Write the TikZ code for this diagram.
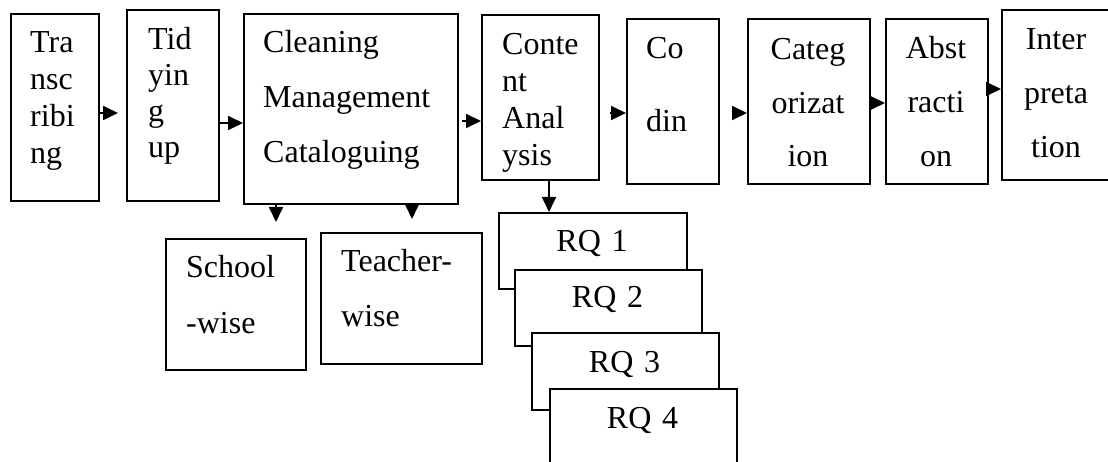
\documentclass[tikz,border=0pt]{standalone}
\usepackage{fontspec}
\setmainfont{Liberation Serif}
\usetikzlibrary{arrows.meta}
\begin{document}
\begin{tikzpicture}[x=1pt,y=-1pt,
  box/.style={draw, line width=1.8pt, fill=white, inner sep=0pt, anchor=north west},
  ltxt/.style={inner sep=0pt, anchor=base west, align=left, text width=#1},
  ctxt/.style={inner sep=0pt, anchor=base, align=center, text width=#1},
  ls/.style={font=\fontsize{32}{#1}\selectfont},
  arr/.style={line width=1.8pt, -{Triangle[length=15pt,width=14pt]}}
]
\useasboundingbox[fill=white] (0,0) rectangle (1108,462);
% top row boxes
\node[box, minimum width=88pt,  minimum height=187pt] (trans)   at (10,13) {};
\node[box, minimum width=92pt,  minimum height=191pt] (tidy)    at (126,9) {};
\node[box, minimum width=214pt, minimum height=190pt] (clean)   at (243,13) {};
\node[box, minimum width=117pt, minimum height=165pt] (content) at (481,14) {};
\node[box, minimum width=92pt,  minimum height=165pt] (coding)  at (626,18) {};
\node[box, minimum width=122pt, minimum height=165pt] (categ)   at (747,18) {};
\node[box, minimum width=102pt, minimum height=165pt] (abstr)   at (885,18) {};
\node[box, minimum width=111pt, minimum height=170pt] (interp)  at (1001,9) {};
% lower boxes
\node[box, minimum width=140pt, minimum height=131pt] (school)  at (165,238) {};
\node[box, minimum width=161pt, minimum height=131pt] (teacher) at (320,232) {};
% texts
\node[ltxt=80pt,  ls=37pt]   (transT)   at (30,53)   {Tra\\nsc\\ribi\\ng};
\node[ltxt=80pt,  ls=36pt]   (tidyT)    at (148,50)  {Tid\\yin\\g\\up};
\node[ltxt=200pt, ls=55pt]   (cleanT)   at (263,53)  {Cleaning\\Management\\Cataloguing};
\node[ltxt=100pt, ls=36.7pt] (contentT) at (502,55)  {Conte\\nt\\Anal\\ysis};
\node[ltxt=80pt,  ls=73pt]   (codingT)  at (646,59)  {Co\\din};
\node[ctxt=122pt, ls=53.5pt] (categT)   at (808,60)  {Categ\\orizat\\ion};
\node[ctxt=102pt, ls=54pt]   (abstrT)   at (936,59)  {Abst\\racti\\on};
\node[ctxt=110pt, ls=54pt]   (interpT)  at (1056,50) {Inter\\preta\\tion};
\node[ltxt=130pt, ls=55pt]   (schoolT)  at (186,278) {School\\-wise};
\node[ltxt=150pt, ls=55pt]   (teacherT) at (341,272) {Teacher-\\wise};
% RQ stack
\node[box, minimum width=188pt, minimum height=76pt] (rq1) at (498,212) {};
\node[ctxt=187pt, ls=37pt] (rq1T) at (592,252) {RQ 1};
\node[box, minimum width=187pt, minimum height=76pt] (rq2) at (514,269) {};
\node[ctxt=187pt, ls=37pt] (rq2T) at (607.5,308) {RQ 2};
\node[box, minimum width=187pt, minimum height=77pt] (rq3) at (531,332) {};
\node[ctxt=187pt, ls=37pt] (rq3T) at (624.5,372) {RQ 3};
\node[box, minimum width=187pt, minimum height=78pt] (rq4) at (549,388) {};
\node[ctxt=187pt, ls=37pt] (rq4T) at (642.5,428) {RQ 4};
% horizontal arrows
\draw[arr, shorten >=8pt] (trans.east |- 0,113) -- (tidy.west |- 0,113);
\draw[arr] (tidy.east |- 0,123) -- (clean.west |- 0,123);
\draw[arr, shorten <=3pt] (clean.east |- 0,121) -- (content.west |- 0,121);
\draw[arr, shorten <=10pt] (content.east |- 0,113) -- (coding.west |- 0,113);
\draw[arr, shorten <=14pt] (coding.east |- 0,113) -- (categ.west |- 0,113);
\draw[arr] (categ.east |- 0,103) -- (abstr.west |- 0,103);
\draw[arr] (abstr.east |- 0,89) -- (interp.west |- 0,89);
% vertical arrows
\draw[arr, shorten >=16pt] (clean.south -| 276,0) -- (school.north -| 276,0);
\draw[arr, shorten >=13pt, shorten <=-3pt] (clean.south -| 412,0) -- (teacher.north -| 412,0);
\draw[arr] (content.south -| 549,0) -- (rq1.north -| 549,0);
\end{tikzpicture}
\end{document}
